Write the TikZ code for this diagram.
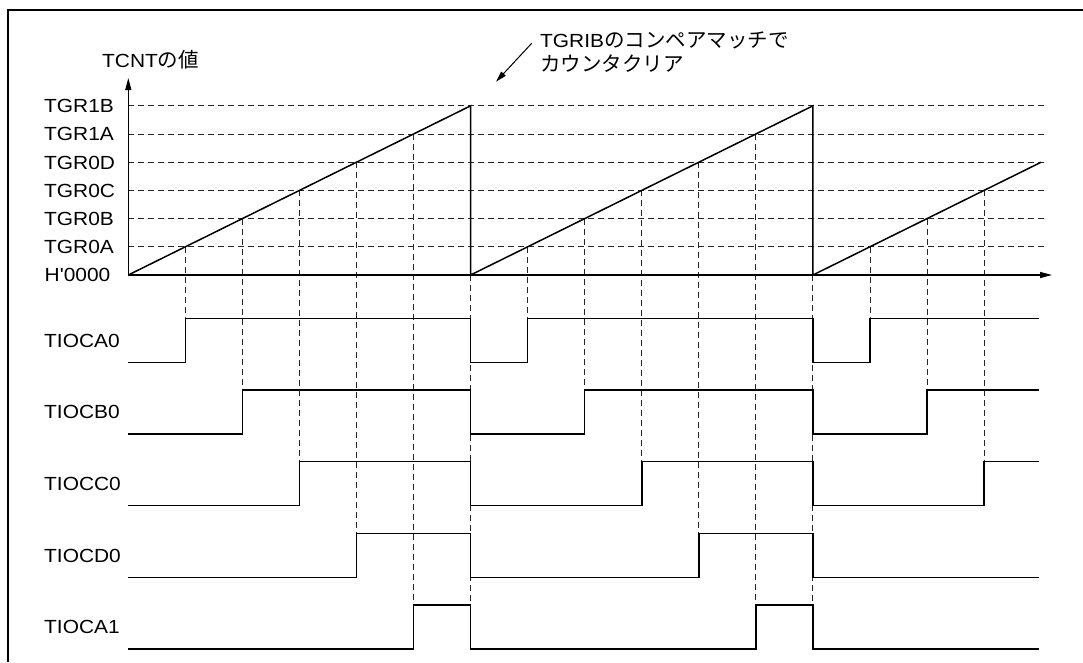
\documentclass[tikz,border=0pt]{standalone}
\usepackage{graphicx}
\usepackage{fontspec}
\setmainfont{Liberation Sans}
\newfontfamily\jpfont{Noto Sans CJK JP}
\usetikzlibrary{arrows.meta}
\newcommand{\J}[1]{{\jpfont\fontsize{20.5}{24}\selectfont #1}}
\newcommand{\W}[1]{\scalebox{1.1}[1]{#1}}
\begin{document}
\begin{tikzpicture}[x=1pt,y=-1pt,
  lbl/.style={anchor=west, inner sep=0pt, text height=13.6pt, text depth=0pt, font=\fontsize{19}{22}\selectfont},
  note/.style={anchor=west, inner sep=0pt, font=\fontsize{19}{22}\selectfont},
  sig/.style={line width=1.5pt, line join=miter},
  guide/.style={line width=0.9pt, dash pattern=on 6pt off 4pt, draw=black!85},
  axis/.style={line width=1.3pt, -{Triangle[length=12pt,width=6pt]}},
  framel/.style={line width=2pt}]
\useasboundingbox (0,0) rectangle (1083,662);

% frame
\coordinate (fbl) at (8,662);
\coordinate (ftl) at (8,10);
\coordinate (ftr) at (1083,10);
\draw[framel] (fbl) -- (ftl) -- (ftr);

% time coordinates
\foreach \k in {0,...,16} {\coordinate (t\k) at ({128.3+57.05*\k},0);}
% level coordinates
\foreach \i in {0,...,6} {\coordinate (lv\i) at (128.3,{275-28.2*\i});}
\coordinate (gridend) at (1047,0);
\coordinate (sigend) at (1038.5,0);
% signal rows
\foreach \r in {0,...,4} {
  \coordinate (hi\r) at (0,{318.3+71.7*\r});
  \coordinate (lo\r) at (0,{362.3+71.7*\r});
}

% horizontal guide lines
\foreach \i in {1,...,6} {\draw[guide] (lv\i) -- (gridend |- lv\i);}

% vertical guide lines
\foreach \k/\l/\r in {1/1/0,2/2/1,3/3/2,4/4/3,5/5/4,
                      7/1/0,8/2/1,9/3/2,10/4/3,11/5/4,
                      13/1/0,14/2/1,15/3/2,
                      6/0/4,12/0/4} {
  \draw[guide] (t\k |- lv\l) -- (t\k |- hi\r);
}

% axes
\coordinate (ytop) at (128.3,78);
\coordinate (xend) at (1052,275);
\draw[axis] (lv0) -- (ytop);
\draw[axis] (lv0) -- (xend);

% ramp
\draw[sig] (t0 |- lv0) -- (t6 |- lv6) -- (t6 |- lv0) -- (t12 |- lv6) -- (t12 |- lv0) -- (t16 |- lv4);

% axis labels
\node[lbl] (lTGRoneB) at (44,105.8) {\W{TGR1B}};
\node[lbl] (lTGRoneA) at (44,134) {\W{TGR1A}};
\node[lbl] (lTGRzeroD) at (44,162.2) {\W{TGR0D}};
\node[lbl] (lTGRzeroC) at (44,190.4) {\W{TGR0C}};
\node[lbl] (lTGRzeroB) at (44,218.6) {\W{TGR0B}};
\node[lbl] (lTGRzeroA) at (44,246.8) {\W{TGR0A}};
\node[lbl] (lH) at (44.5,275) {\W{H\textquotesingle0000}};
\node[note] (ltcnt) at (102,60) {\W{TCNT}\J{の値}};

% signals
\foreach \r/\a/\b/\c in {0/1/7/13, 1/2/8/14, 2/3/9/15} {
  \draw[sig] (t0 |- lo\r) -- (t\a |- lo\r) -- (t\a |- hi\r) -- (t6 |- hi\r) -- (t6 |- lo\r)
    -- (t\b |- lo\r) -- (t\b |- hi\r) -- (t12 |- hi\r) -- (t12 |- lo\r)
    -- (t\c |- lo\r) -- (t\c |- hi\r) -- (sigend |- hi\r);
}
\foreach \r/\a/\b in {3/4/10, 4/5/11} {
  \draw[sig] (t0 |- lo\r) -- (t\a |- lo\r) -- (t\a |- hi\r) -- (t6 |- hi\r) -- (t6 |- lo\r)
    -- (t\b |- lo\r) -- (t\b |- hi\r) -- (t12 |- hi\r) -- (t12 |- lo\r)
    -- (sigend |- lo\r);
}

% signal labels
\node[lbl] (sA0) at (44,340.3) {\W{TIOCA0}};
\node[lbl] (sB0) at (44,412) {\W{TIOCB0}};
\node[lbl] (sC0) at (44,483.7) {\W{TIOCC0}};
\node[lbl] (sD0) at (44,555.4) {\W{TIOCD0}};
\node[lbl] (sA1) at (44,627.1) {\W{TIOCA1}};

% annotation
\node[note] (n1) at (540,40) {\W{TGRIB}\J{のコンペアマッチで}};
\node[note] (n2) at (540,64) {\J{カウンタクリア}};
\coordinate (arrS) at (531.7,43.3);
\coordinate (arrE) at (496,81.7);
\draw[line width=1pt, -{Triangle[length=11pt,width=6pt]}] (arrS) -- (arrE);
\end{tikzpicture}
\end{document}
